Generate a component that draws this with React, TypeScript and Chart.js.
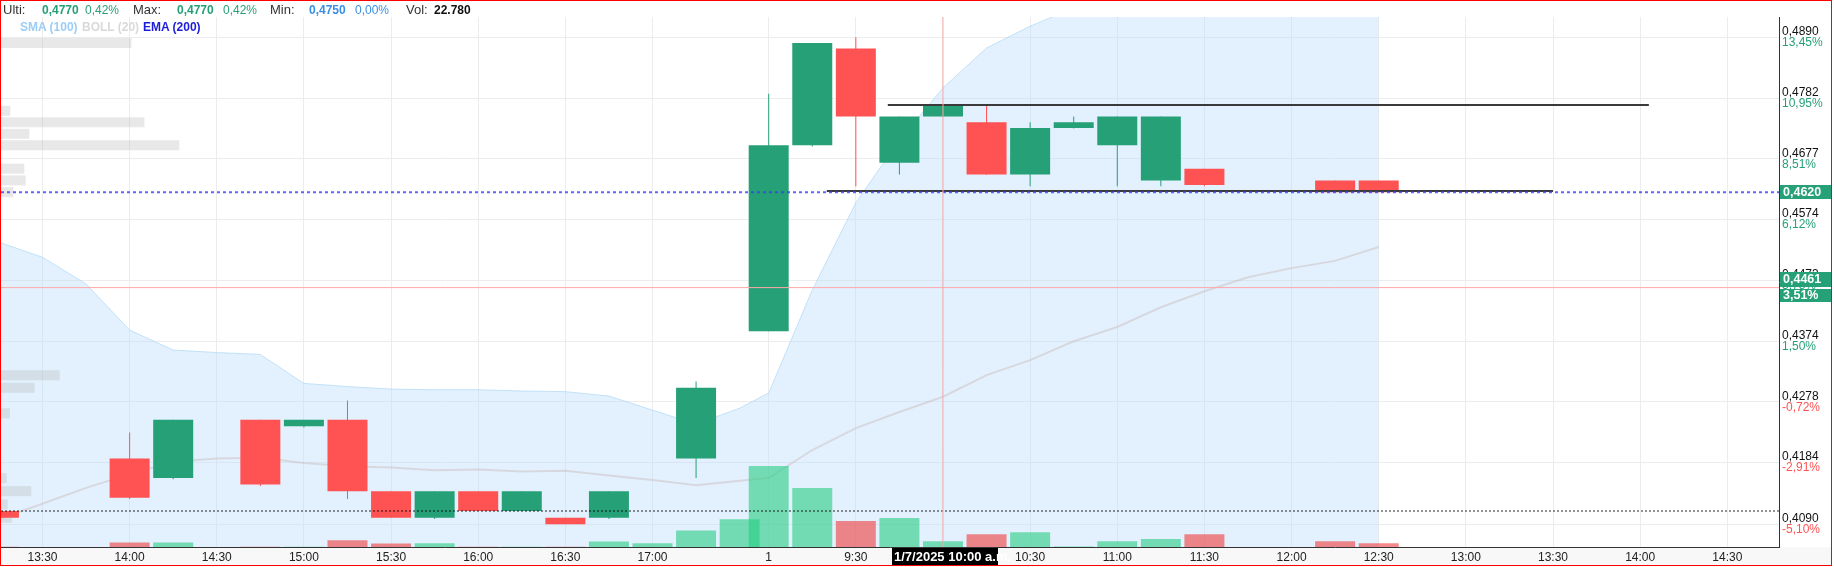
import React, { useEffect, useRef } from "react";
import { Chart, registerables } from "chart.js";

Chart.register(...registerables);

const FONT = "'Liberation Sans', Arial, Helvetica, sans-serif";
const GREEN = "#26a076";
const RED = "#ff5252";

// ---- time slots (15 min candles), two sessions ----
const DAY1_ORIGIN = "13:15";
const DAY2_ORIGIN = "9:00";
const DAY2_OFFSET_MIN = 265; // where session 2 starts on the compressed time axis
const DAY1_SLOTS = ["13:15", "13:30", "13:45", "14:00", "14:15", "14:30", "14:45", "15:00", "15:15", "15:30", "15:45", "16:00", "16:15", "16:30", "16:45", "17:00", "17:15", "17:30"];
const DAY2_SLOTS = ["9:00", "9:15", "9:30", "9:45", "10:00", "10:15", "10:30", "10:45", "11:00", "11:15", "11:30", "11:45", "12:00", "12:15", "12:30"];

// ---- OHLC + volume per slot ----
const OPEN = [0.4110, null, null, 0.4190, 0.4160, null, 0.4250, 0.4240, 0.4250, 0.4140, 0.4100, 0.4140, 0.4110, 0.4100, 0.4100, 0.4110, 0.4190, 0.4310,
  0.4390, 0.4700, 0.4870, 0.4670, 0.4750, 0.4740, 0.4650, 0.4730, 0.4700, 0.4640, 0.4660, null, null, 0.4640, 0.4640];
const HIGH = [0.4110, null, null, 0.4230, 0.4250, null, 0.4250, 0.4250, 0.4280, 0.4140, 0.4140, 0.4140, 0.4140, 0.4100, 0.4140, 0.4110, 0.4310, 0.4310,
  0.4790, 0.4880, 0.4890, 0.4750, 0.4770, 0.4770, 0.4740, 0.4750, 0.4750, 0.4750, 0.4660, null, null, 0.4640, 0.4640];
const LOW = [0.4100, null, null, 0.4128, 0.4158, null, 0.4148, 0.4238, 0.4128, 0.4100, 0.4098, 0.4110, 0.4110, 0.4090, 0.4098, 0.4110, 0.4160, 0.4310,
  0.4390, 0.4698, 0.4630, 0.4650, 0.4750, 0.4649, 0.4630, 0.4729, 0.4630, 0.4630, 0.4630, null, null, 0.4620, 0.4620];
const CLOSE = [0.4100, null, null, 0.4130, 0.4250, null, 0.4150, 0.4250, 0.4140, 0.4100, 0.4140, 0.4110, 0.4140, 0.4090, 0.4140, 0.4110, 0.4300, 0.4310,
  0.4700, 0.4880, 0.4750, 0.4750, 0.4770, 0.4650, 0.4730, 0.4740, 0.4750, 0.4750, 0.4632, null, null, 0.4620, 0.4620];
const VOLUME = [1500, null, null, 17600, 17600, null, 1500, 1500, 26800, 13600, 14800, 1500, 1500, 1500, 21600, 14800, 65600, 110800,
  324000, 236000, 104000, 116000, 22780, 50800, 58800, 2000, 22800, 32000, 50800, null, null, 22800, 14800];

// ---- indicators per slot ----
const BAND_UPPER = [0.4536, 0.4511, 0.4467, 0.4392, 0.4360, 0.4356, 0.4353, 0.4307, 0.4302, 0.4298, 0.4297, 0.4297, 0.4295, 0.4294, 0.4287, 0.4265, 0.4243, 0.4268,
  0.4292, 0.4457, 0.4602, 0.4709, 0.4800, 0.4871, 0.4910, 0.4943, 0.4975, 0.5000, 0.5020, 0.5035, 0.5045, 0.5050, 0.5055];
const BAND_MID = [0.4098, 0.4121, 0.4145, 0.4166, 0.4185, 0.4190, 0.4191, 0.4183, 0.4178, 0.4176, 0.4172, 0.4173, 0.4170, 0.4171, 0.4164, 0.4157, 0.4149, 0.4156,
  0.4160, 0.4203, 0.4237, 0.4262, 0.4286, 0.4320, 0.4344, 0.4374, 0.4397, 0.4429, 0.4455, 0.4478, 0.4493, 0.4505, 0.4528];

// ---- volume at price profile ----
const PROFILE_PRICES = [0.4880, 0.4760, 0.4740, 0.4720, 0.4700, 0.4660, 0.4640, 0.4620, 0.4320, 0.4300, 0.4260, 0.4160, 0.4140, 0.4120, 0.4100];
const PROFILE_VOLUMES = [261000, 18600, 287000, 56600, 356600, 46600, 49400, 24600, 117400, 67400, 18000, 11400, 60600, 13400, 22000];

// ---- axes ----
const Y_TICKS = [0.4890, 0.4782, 0.4677, 0.4574, 0.4473, 0.4374, 0.4278, 0.4184, 0.4090];
const Y_TICK_LABELS = ["0,4890", "0,4782", "0,4677", "0,4574", "0,4473", "0,4374", "0,4278", "0,4184", "0,4090"];
const Y_PCT_LABELS = ["13,45%", "10,95%", "8,51%", "6,12%", "3,78%", "1,50%", "-0,72%", "-2,91%", "-5,10%"];
const X_TICKS_DAY1 = ["13:30", "14:00", "14:30", "15:00", "15:30", "16:00", "16:30", "17:00"];
const X_TICKS_DAY2 = ["9:00", "9:30", "10:00", "10:30", "11:00", "11:30", "12:00", "12:30", "13:00", "13:30", "14:00", "14:30"];
const DAY2_LABEL = "1";
const Y_MIN = 0.40561;
const Y_MAX = 0.49266;
const X_MIN = 0.72;
const X_MAX = 612.8;
const VOL_AXIS_MAX = 2120000;
const PROFILE_AXIS_MAX = 3556000;

// ---- levels / drawings ----
const LAST_PRICE = 0.4620;
const REF_LEVEL = 0.4110;
const RESIST_PRICE = 0.4770;
const RESIST_FROM = "9:41";
const RESIST_TO = "14:03";
const SUPPORT_PRICE = 0.4622;
const SUPPORT_FROM = "9:20";
const SUPPORT_TO = "13:30";
const CROSS_TIME = "10:00";
const CROSS_PRICE = 0.4461;
const CROSS_PCT = "3,51%";
const CROSS_DATE_LABEL = "1/7/2025 10:00 a.m.";

const hm = (t: string) => {
  const [h, m] = t.split(":").map(Number);
  return h * 60 + m;
};
const toMin = (day: number, t: string) =>
  day === 1 ? hm(t) - hm(DAY1_ORIGIN) : DAY2_OFFSET_MIN + hm(t) - hm(DAY2_ORIGIN);
const fmt = (v: number) => v.toFixed(4).replace(".", ",");

const overlayPlugin = {
  id: "overlay",
  beforeDraw(chart: any) {
    const { ctx, chartArea, width, height } = chart;
    ctx.save();
    ctx.fillStyle = "#f8f8f8";
    ctx.fillRect(0, chartArea.bottom, width, height - chartArea.bottom);
    ctx.restore();
  },
  afterDraw(chart: any) {
    const { ctx, chartArea, scales, height } = chart;
    const ys = scales.y;
    const xs = scales.x;
    ctx.save();
    // percentage labels under each price tick
    ctx.font = `12px ${FONT}`;
    ctx.textBaseline = "middle";
    ctx.textAlign = "left";
    Y_TICKS.forEach((v, i) => {
      const lab = Y_PCT_LABELS[i];
      ctx.fillStyle = lab.startsWith("-") ? RED : GREEN;
      ctx.fillText(lab, chartArea.right + 3, ys.getPixelForValue(v) + 5.5);
    });
    ctx.font = `bold 12.5px ${FONT}`;
    const bx = chartArea.right + 1;
    const bw = 51;
    const lp = Math.round(ys.getPixelForValue(LAST_PRICE));
    ctx.fillStyle = GREEN;
    ctx.fillRect(bx, lp - 7, bw, 14);
    ctx.fillStyle = "#fff";
    ctx.fillText(fmt(LAST_PRICE), bx + 3, lp + 0.5);
    const cp = Math.round(ys.getPixelForValue(CROSS_PRICE));
    ctx.fillStyle = GREEN;
    ctx.fillRect(bx, cp - 16, bw, 15);
    ctx.fillRect(bx, cp + 1, bw, 13);
    ctx.fillStyle = "#fff";
    ctx.fillText(fmt(CROSS_PRICE), bx + 3, cp - 8);
    ctx.fillText(CROSS_PCT, bx + 3, cp + 8);
    const cx = Math.round(xs.getPixelForValue(toMin(2, CROSS_TIME)));
    ctx.fillStyle = "#000";
    ctx.fillRect(cx - 51, chartArea.bottom + 1, 106, height - chartArea.bottom - 1);
    ctx.font = `bold 13px ${FONT}`;
    ctx.fillStyle = "#fff";
    ctx.fillText(CROSS_DATE_LABEL, cx - 49, (chartArea.bottom + height) / 2 + 1);
    ctx.restore();
  },
};

const zeroPad = (s: any) => {
  s.paddingLeft = 0;
  s.paddingRight = 0;
  s.paddingTop = 0;
  s.paddingBottom = 0;
};

export default function App() {
  const ref = useRef<HTMLCanvasElement>(null);

  useEffect(() => {
    document.body.style.margin = "0";
    const canvas = ref.current;
    if (!canvas) return;
    Chart.defaults.font.family = FONT;

    const slotX = [
      ...DAY1_SLOTS.map((t) => toMin(1, t)),
      ...DAY2_SLOTS.map((t) => toMin(2, t)),
    ];
    const idx = slotX.map((_, i) => i).filter((i) => OPEN[i] !== null);
    const isUp = (i: number) => (CLOSE[i] as number) >= (OPEN[i] as number);

    const bodies = idx.map((i) => ({ x: slotX[i], y: [OPEN[i], CLOSE[i]] }));
    const wicks = idx.map((i) => ({ x: slotX[i], y: [LOW[i], HIGH[i]] }));
    const candleColors = idx.map((i) => (isUp(i) ? GREEN : RED));
    const volIdx = idx.filter((i) => VOLUME[i] !== null);
    const vols = volIdx.map((i) => ({ x: slotX[i], y: VOLUME[i] }));
    const volColors = volIdx.map((i) => (isUp(i) ? "rgba(40,205,130,0.6)" : "rgba(240,60,60,0.6)"));

    const xTickValues = [
      ...X_TICKS_DAY1.map((t) => toMin(1, t)),
      ...X_TICKS_DAY2.map((t) => toMin(2, t)),
    ];
    const xTickLabels = [
      ...X_TICKS_DAY1,
      ...X_TICKS_DAY2.map((t) => (t === DAY2_ORIGIN ? DAY2_LABEL : t)),
    ];

    const line = (data: any[], color: string, width: number, order: number, dash: number[] = []) => ({
      type: "line",
      data,
      xAxisID: "x",
      yAxisID: "y",
      borderColor: color,
      borderWidth: width,
      borderDash: dash,
      pointRadius: 0,
      fill: false,
      tension: 0,
      order,
    });

    const chart = new Chart(canvas, {
      type: "bar",
      data: {
        datasets: [
          {
            type: "line",
            data: slotX.map((x, i) => ({ x, y: BAND_UPPER[i] })),
            xAxisID: "x",
            yAxisID: "y",
            borderColor: "rgba(175,215,245,0.7)",
            borderWidth: 1,
            backgroundColor: "rgba(190,225,250,0.45)",
            fill: "start",
            pointRadius: 0,
            tension: 0,
            order: 10,
          },
          {
            type: "bar",
            indexAxis: "y",
            data: PROFILE_PRICES.map((p, i) => ({ x: PROFILE_VOLUMES[i], y: p })),
            xAxisID: "xp",
            yAxisID: "y",
            backgroundColor: "rgba(180,180,180,0.3)",
            barThickness: 10,
            grouped: false,
            inflateAmount: 0,
            order: 9,
          },
          line(slotX.map((x, i) => ({ x, y: BAND_MID[i] })), "rgba(200,180,180,0.4)", 2, 8),
          {
            type: "bar",
            data: vols,
            xAxisID: "x",
            yAxisID: "y2",
            backgroundColor: volColors,
            barThickness: 40,
            grouped: false,
            inflateAmount: 0,
            order: 7,
          },
          {
            type: "bar",
            data: wicks,
            xAxisID: "x",
            yAxisID: "y",
            backgroundColor: candleColors,
            barThickness: 1,
            grouped: false,
            inflateAmount: 0,
            order: 6,
          },
          {
            type: "bar",
            data: bodies,
            xAxisID: "x",
            yAxisID: "y",
            backgroundColor: candleColors,
            barThickness: 40,
            grouped: false,
            inflateAmount: 0,
            order: 5,
          },
          line([{ x: toMin(2, RESIST_FROM), y: RESIST_PRICE }, { x: toMin(2, RESIST_TO), y: RESIST_PRICE }], "#3a3a3a", 2, 4),
          line([{ x: toMin(2, SUPPORT_FROM), y: SUPPORT_PRICE }, { x: toMin(2, SUPPORT_TO), y: SUPPORT_PRICE }], "#3a3a3a", 2, 4),
          line([{ x: X_MIN, y: REF_LEVEL }, { x: X_MAX, y: REF_LEVEL }], "rgba(0,0,0,0.85)", 1, 3, [2, 2]),
          line([{ x: X_MIN, y: LAST_PRICE }, { x: X_MAX, y: LAST_PRICE }], "rgba(60,60,255,0.8)", 2, 2, [3, 3]),
          line([{ x: X_MIN, y: CROSS_PRICE }, { x: X_MAX, y: CROSS_PRICE }], "#ffa8a8", 1, 1),
          line([{ x: toMin(2, CROSS_TIME), y: Y_MIN }, { x: toMin(2, CROSS_TIME), y: Y_MAX }], "#ffa8a8", 1, 1),
        ] as any,
      },
      options: {
        responsive: false,
        animation: false,
        events: [],
        layout: { padding: { top: 16, left: 0, right: 0, bottom: 0 } },
        plugins: { legend: { display: false }, tooltip: { enabled: false } },
        scales: {
          x: {
            type: "linear",
            axis: "x",
            position: "bottom",
            offset: false,
            min: X_MIN,
            max: X_MAX,
            afterBuildTicks: (s: any) => {
              s.ticks = xTickValues.map((v) => ({ value: v }));
            },
            afterFit: (s: any) => {
              s.height = 18;
              zeroPad(s);
            },
            grid: { color: "#ececec", drawTicks: false, offset: false },
            border: { display: true, color: "#333", width: 1 },
            ticks: {
              autoSkip: false,
              maxRotation: 0,
              padding: 3,
              color: "#222",
              font: { size: 12 },
              callback: (_v: any, i: number) => xTickLabels[i],
            },
          },
          xp: {
            type: "linear",
            axis: "x",
            position: "top",
            display: false,
            offset: false,
            grid: { offset: false },
            min: 0,
            max: PROFILE_AXIS_MAX,
          },
          y: {
            type: "logarithmic",
            axis: "y",
            position: "right",
            offset: false,
            min: Y_MIN,
            max: Y_MAX,
            afterBuildTicks: (s: any) => {
              s.ticks = Y_TICKS.map((v) => ({ value: v }));
            },
            afterFit: (s: any) => {
              s.width = 52;
              zeroPad(s);
            },
            grid: { color: "#ececec", drawTicks: false, offset: false },
            border: { display: true, color: "#333", width: 1 },
            ticks: {
              autoSkip: false,
              padding: 3,
              labelOffset: -5.5,
              color: "#111",
              font: { size: 12 },
              callback: (_v: any, i: number) => Y_TICK_LABELS[i],
            },
          },
          y2: {
            type: "linear",
            axis: "y",
            position: "left",
            display: false,
            offset: false,
            min: 0,
            max: VOL_AXIS_MAX,
          },
        },
      } as any,
      plugins: [overlayPlugin],
    });

    return () => chart.destroy();
  }, []);

  const txt = (left: number, top: number, s: string, color: string, size: number, bold = false) => (
    <span
      style={{
        position: "absolute",
        left,
        top,
        fontFamily: FONT,
        fontSize: size,
        lineHeight: "14px",
        fontWeight: bold ? "bold" : "normal",
        color,
        whiteSpace: "nowrap",
      }}
    >
      {s}
    </span>
  );

  return (
    <div
      style={{
        position: "relative",
        width: 1832,
        height: 566,
        border: "1px solid red",
        boxSizing: "border-box",
        background: "#fff",
      }}
    >
      <canvas ref={ref} width={1830} height={564} style={{ display: "block", width: 1830, height: 564 }} />
      {txt(2, 2, "Ulti:", "#333", 13)}
      {txt(41, 2, "0,4770", GREEN, 12, true)}
      {txt(84, 2, "0,42%", GREEN, 12)}
      {txt(132, 2, "Max:", "#333", 13)}
      {txt(176, 2, "0,4770", GREEN, 12, true)}
      {txt(222, 2, "0,42%", GREEN, 12)}
      {txt(269, 2, "Min:", "#333", 13)}
      {txt(308, 2, "0,4750", "#3a8ee6", 12, true)}
      {txt(354, 2, "0,00%", "#3a8ee6", 12)}
      {txt(405, 2, "Vol:", "#333", 13)}
      {txt(433, 2, "22.780", "#111", 12, true)}
      {txt(19, 19, "SMA (100)", "#9ccdf7", 12, true)}
      {txt(81, 19, "BOLL (20)", "#d9d9d9", 12, true)}
      {txt(142, 19, "EMA (200)", "#1c1cdc", 12, true)}
    </div>
  );
}
